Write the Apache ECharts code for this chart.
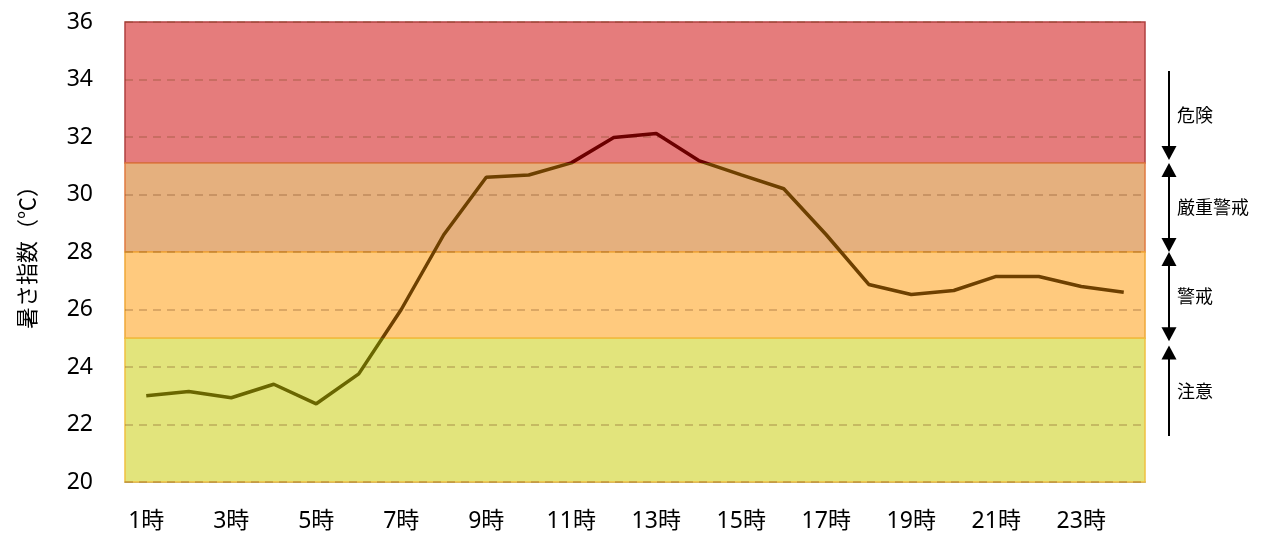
<!DOCTYPE html>
<html>
<head>
<meta charset="utf-8">
<script src="https://cdn.jsdelivr.net/npm/echarts@6/dist/echarts.min.js"></script>
<style>
  html, body { margin: 0; padding: 0; background: #fff; }
  #chart { width: 1275px; height: 533px; }
</style>
</head>
<body>
<div id="chart"></div>
<script>
  // 時刻ラベル
  var hours = ['1時', '2時', '3時', '4時', '5時', '6時', '7時', '8時', '9時', '10時', '11時', '12時',
    '13時', '14時', '15時', '16時', '17時', '18時', '19時', '20時', '21時', '22時', '23時', '24時'];
  // 暑さ指数
  var wbgt = [23.0, 23.15, 22.93, 23.4, 22.72, 23.76, 26.0, 28.6, 30.6, 30.68, 31.1, 31.98,
    32.12, 31.18, 30.68, 30.2, 28.6, 26.87, 26.52, 26.66, 27.15, 27.15, 26.8, 26.6];
  // 区分の境界
  var levelNames = ['危険', '厳重警戒', '警戒', '注意'];
  var levelTop = [36, 31.1, 28, 25];
  var levelBottom = [31.1, 28, 25, 20];
  var levelColors = ['#e57c7c', '#e5b07e', '#ffca7e', '#e2e47c'];
  var levelBorders = ['#b04040', '#e07a40', '#f0a838', '#f0c040'];
  var lineColors = ['#6c0000', '#6e4000', '#6e4000', '#6a6600'];
  // 右側の矢印（上端, 下端）
  var arrowTop = [34.3, 31.1, 28.0, 24.75];
  var arrowBottom = [31.2, 28.0, 24.9, 21.6];

  var chart = echarts.init(document.getElementById('chart'));
  var bands = levelNames.map(function (n, i) {
    return [{
      yAxis: levelBottom[i],
      itemStyle: {color: levelColors[i], borderColor: levelBorders[i], borderWidth: 1.5}
    }, {yAxis: levelTop[i]}];
  });

  var option = {
    animation: false,
    grid: {left: 125, right: 130, top: 22, bottom: 49},
    xAxis: {
      type: 'category',
      data: hours,
      boundaryGap: true,
      axisTick: {show: false},
      axisLine: {lineStyle: {color: '#a6a6a6', width: 2}},
      axisLabel: {
        interval: 1,
        color: '#000',
        fontSize: 23,
        margin: 28,
        fontFamily: '"Noto Sans", "Noto Sans CJK JP"'
      }
    },
    yAxis: {
      type: 'value',
      min: 20,
      max: 36,
      interval: 2,
      z: 2,
      name: '暑さ指数（℃）',
      nameLocation: 'middle',
      nameRotate: 90,
      nameGap: 87,
      nameTextStyle: {color: '#000', fontSize: 22, fontFamily: '"Noto Sans CJK JP"'},
      axisLine: {show: false},
      axisTick: {show: false},
      axisLabel: {color: '#000', fontSize: 23, margin: 32, fontFamily: '"Noto Sans"'},
      splitLine: {lineStyle: {color: 'rgba(120,70,30,0.35)', type: [8, 6], width: 1.5}}
    },
    visualMap: {
      show: false,
      type: 'piecewise',
      dimension: 1,
      seriesIndex: 0,
      pieces: [
        {gte: levelBottom[0], color: lineColors[0]},
        {gte: levelBottom[2], lt: levelBottom[0], color: lineColors[1]},
        {lt: levelBottom[2], color: lineColors[3]}
      ]
    },
    series: [{
      type: 'line',
      data: wbgt,
      z: 3,
      symbol: 'none',
      lineStyle: {width: 3.5},
      markArea: {silent: true, z: 1, data: bands}
    }]
  };
  chart.setOption(option);

  // 右側の区分表示
  var ax = 1169;
  var elements = [];
  function yPix(v) {
    return chart.convertToPixel({yAxisIndex: 0}, v);
  }
  levelNames.forEach(function (n, i) {
    var t = yPix(arrowTop[i]);
    var b = yPix(arrowBottom[i]);
    var hasUp = i > 0;
    var hasDown = i < levelNames.length - 1;
    elements.push({
      type: 'line',
      shape: {x1: ax, y1: hasUp ? t + 12 : t, x2: ax, y2: hasDown ? b - 12 : b},
      style: {stroke: '#000', lineWidth: 2}
    });
    if (hasUp) {
      elements.push({
        type: 'polygon',
        shape: {points: [[ax, t], [ax - 7.5, t + 14], [ax + 7.5, t + 14]]},
        style: {fill: '#000'}
      });
    }
    if (hasDown) {
      elements.push({
        type: 'polygon',
        shape: {points: [[ax, b], [ax - 7.5, b - 14], [ax + 7.5, b - 14]]},
        style: {fill: '#000'}
      });
    }
    elements.push({
      type: 'text',
      x: ax + 8,
      y: (t + b) / 2,
      style: {
        text: n,
        fill: '#000',
        fontSize: 18,
        fontFamily: '"Noto Sans CJK JP"',
        verticalAlign: 'middle',
        align: 'left'
      }
    });
  });
  chart.setOption({graphic: {elements: elements}});
</script>
</body>
</html>
